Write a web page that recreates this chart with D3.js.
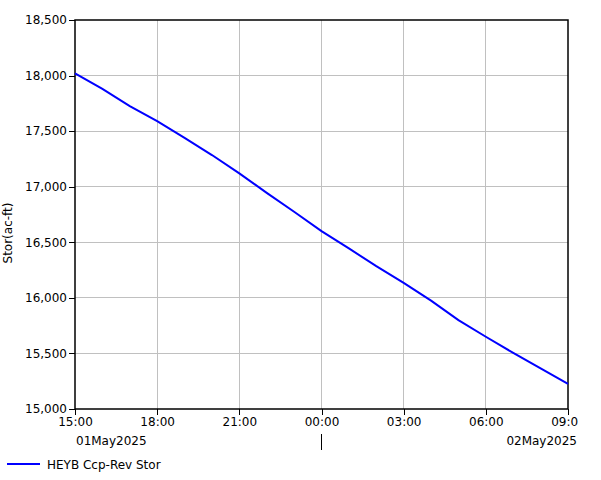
<!DOCTYPE html>
<html><head><meta charset="utf-8">
<script src="https://cdn.jsdelivr.net/npm/d3@7"></script>
<style>body{margin:0;background:#fff}svg{display:block}text{font-family:"DejaVu Sans",Verdana,sans-serif;font-size:12px;fill:#000}</style>
</head><body>
<script>
const times = ["2025-05-01T15:00","2025-05-01T16:00","2025-05-01T17:00","2025-05-01T18:00","2025-05-01T19:00","2025-05-01T20:00","2025-05-01T21:00","2025-05-01T22:00","2025-05-01T23:00","2025-05-02T00:00","2025-05-02T01:00","2025-05-02T02:00","2025-05-02T03:00","2025-05-02T04:00","2025-05-02T05:00","2025-05-02T06:00","2025-05-02T07:00","2025-05-02T08:00","2025-05-02T09:00"];
const storage = [18020,17880,17725,17590,17440,17285,17120,16945,16775,16600,16445,16285,16135,15975,15800,15650,15505,15365,15225];
const yTicks = [15000,15500,16000,16500,17000,17500,18000,18500];
const xTickTimes = ["2025-05-01T15:00","2025-05-01T18:00","2025-05-01T21:00","2025-05-02T00:00","2025-05-02T03:00","2025-05-02T06:00","2025-05-02T09:00"];
const seriesName = "HEYB Ccp-Rev Stor";
const yTitle = "Stor(ac-ft)";
const dateLabels = ["01May2025","02May2025"];

const W=601,H=480,L=75,R=568,T=20,B=409;
const parse = d3.timeParse("%Y-%m-%dT%H:%M");
const data = times.map((t,i)=>({t:parse(t),v:storage[i]}));
const x = d3.scaleTime().domain([parse(times[0]),parse(times[times.length-1])]).range([L,R]);
const y = d3.scaleLinear().domain([15000,18500]).range([B,T]);

const svg = d3.select("body").append("svg").attr("width",W).attr("height",H);
svg.append("defs").append("clipPath").attr("id","cv").append("rect").attr("x",0).attr("y",0).attr("width",578).attr("height",H);
const g = svg.append("g").attr("clip-path","url(#cv)");

// grid
g.append("g").selectAll("line").data(yTicks.slice(1,-1)).join("line")
  .attr("x1",L).attr("x2",R).attr("y1",d=>y(d)).attr("y2",d=>y(d))
  .attr("stroke","#c0c0c0").attr("stroke-width",1).attr("shape-rendering","crispEdges");
g.append("g").selectAll("line").data(xTickTimes.slice(1,-1).map(parse)).join("line")
  .attr("y1",T).attr("y2",B).attr("x1",d=>x(d)).attr("x2",d=>x(d))
  .attr("stroke","#c0c0c0").attr("stroke-width",1).attr("shape-rendering","crispEdges");

// axes
const yAxis = d3.axisLeft(y).tickValues(yTicks).tickFormat(d3.format(",")).tickSize(6).tickPadding(2);
const ya = g.append("g").attr("transform",`translate(${L},0)`).call(yAxis);
const xAxis = d3.axisBottom(x).tickValues(xTickTimes.map(parse)).tickFormat(d3.timeFormat("%H:%M")).tickSize(6).tickPadding(2);
const xa = g.append("g").attr("transform",`translate(0,${B})`).call(xAxis);
[ya,xa].forEach(a=>{a.select(".domain").remove();a.selectAll("line").attr("stroke","#000").attr("shape-rendering","crispEdges");a.selectAll("text").attr("fill","#000").style("font-size","12px").style("font-family","DejaVu Sans");});

// frame
g.append("rect").attr("x",L).attr("y",T).attr("width",R-L).attr("height",B-T)
  .attr("fill","none").attr("stroke","#000").attr("stroke-width",1.5);

// line
g.append("path").datum(data).attr("fill","none").attr("stroke","#0000ff").attr("stroke-width",2)
  .attr("d",d3.line().x(d=>x(d.t)).y(d=>y(d.v)));

// date labels
g.append("text").attr("x",L+1).attr("y",445).text(dateLabels[0]);
g.append("text").attr("x",577).attr("y",445).attr("text-anchor","end").text(dateLabels[1]);
const mid = x(parse(xTickTimes[3]));
g.append("line").attr("x1",mid).attr("x2",mid).attr("y1",434).attr("y2",450).attr("stroke","#000").attr("shape-rendering","crispEdges");

// y title
g.append("text").attr("transform","translate(12,233) rotate(-90)").attr("text-anchor","middle").text(yTitle);

// legend
g.append("line").attr("x1",7).attr("x2",40).attr("y1",464).attr("y2",464).attr("stroke","#0000ff").attr("stroke-width",2);
g.append("text").attr("x",47).attr("y",469).text(seriesName);
</script>
</body></html>
